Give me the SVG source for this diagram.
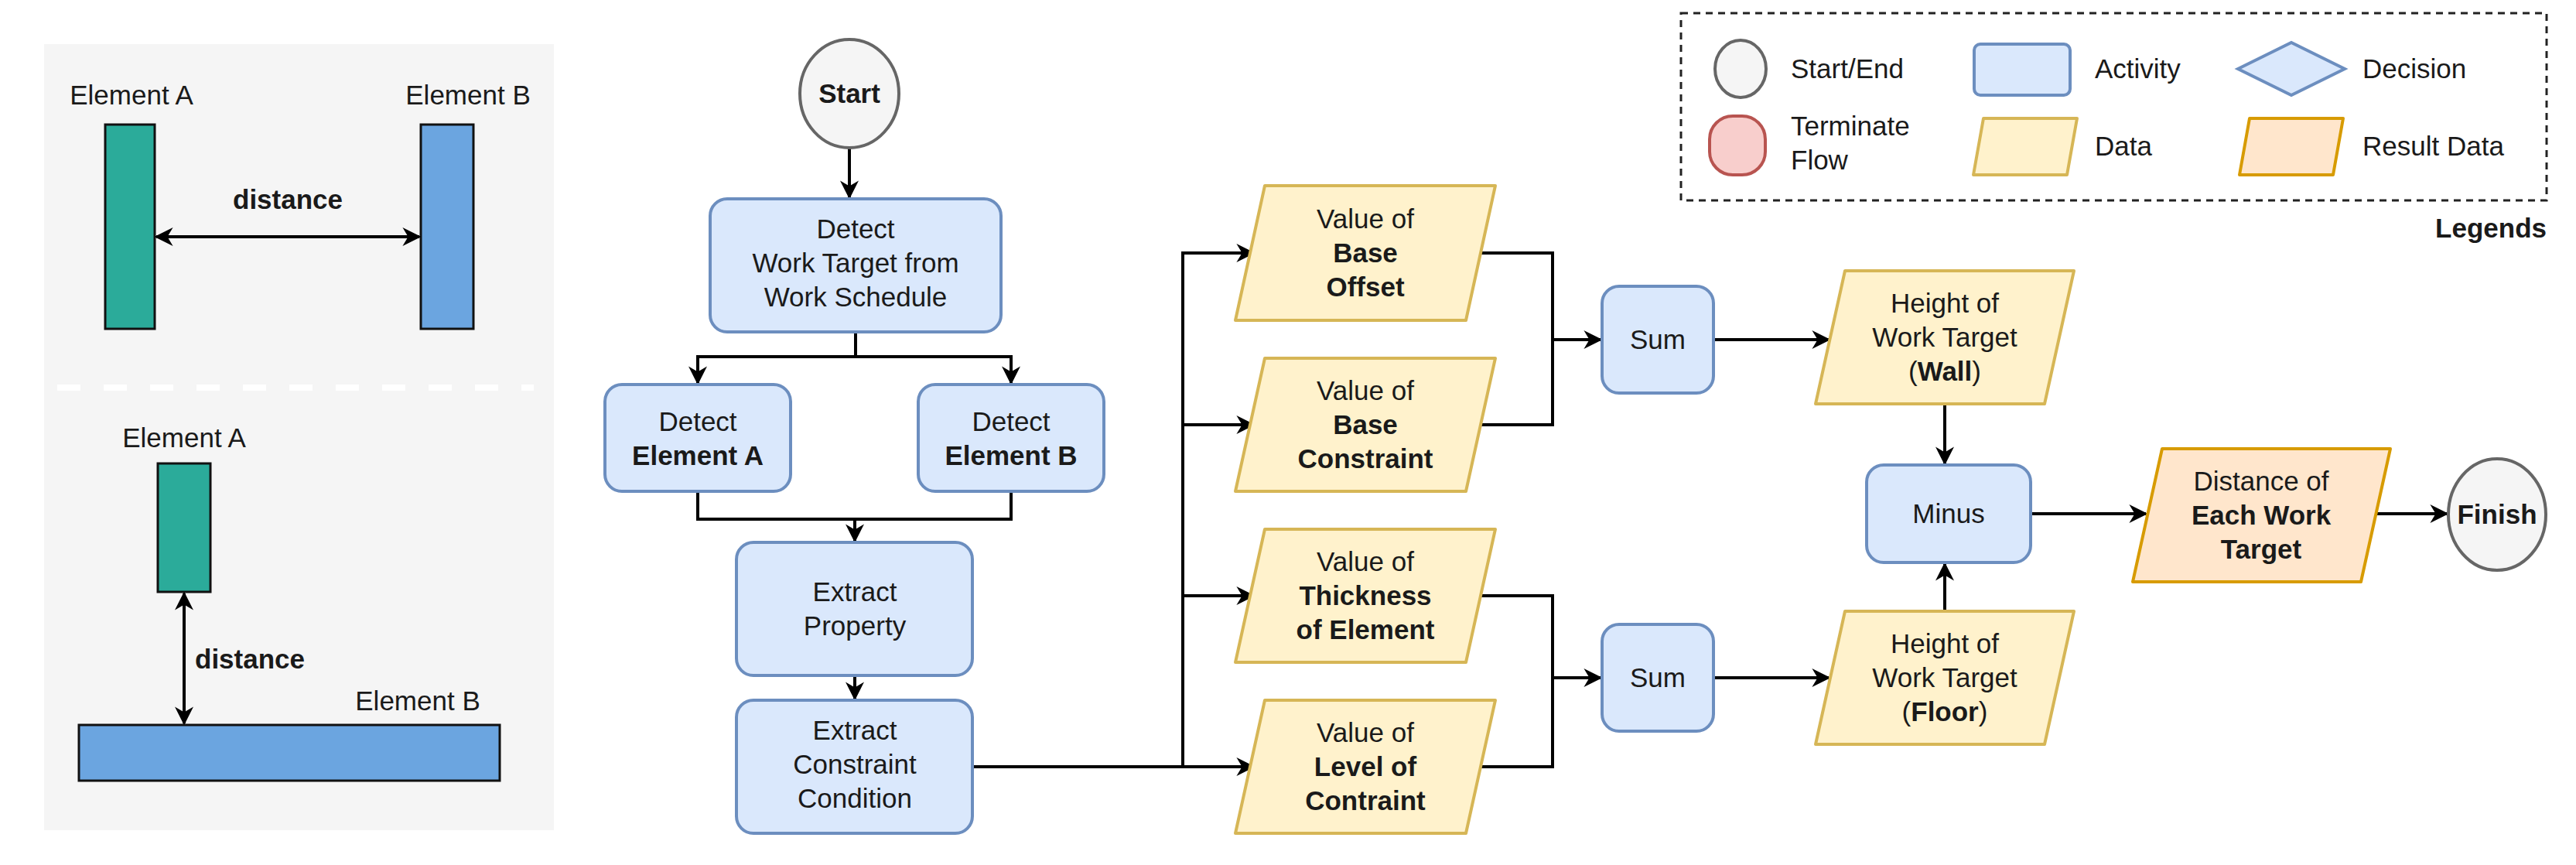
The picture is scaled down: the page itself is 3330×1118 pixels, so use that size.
<svg xmlns="http://www.w3.org/2000/svg" width="3330" height="1118" viewBox="0 0 3330 1118">
<style>
text{font-family:"Liberation Sans",Arial,sans-serif;font-size:35px;fill:#1a1a1a;text-anchor:middle}
.b{font-weight:bold}
.l{text-anchor:start}
.act{fill:#dae8fc;stroke:#6c8ebf;stroke-width:4}
.dat{fill:#fff2cc;stroke:#d6b656;stroke-width:4;stroke-linejoin:round}
.res{fill:#ffe6cc;stroke:#d79b00;stroke-width:4;stroke-linejoin:round}
.se{fill:#f5f5f5;stroke:#666;stroke-width:4}
.c{fill:none;stroke:#000;stroke-width:4}
</style>
<defs>
<marker id="a" viewBox="0 0 10 10" refX="9" refY="5" markerWidth="6" markerHeight="6" orient="auto-start-reverse"><path d="M0,0 L10,5 L0,10 L3,5 Z" fill="#000"/></marker>
</defs>
<g id="panel">
<rect x="57" y="57" width="659" height="1016" fill="#f5f5f5"/>
<text x="170" y="135">Element A</text>
<text x="605" y="135">Element B</text>
<rect x="136" y="161" width="64" height="264" fill="#2bab9a" stroke="#111" stroke-width="3"/>
<rect x="544" y="161" width="68" height="264" fill="#6ba5e0" stroke="#111" stroke-width="3"/>
<line x1="202" y1="306" x2="542" y2="306" class="c" marker-start="url(#a)" marker-end="url(#a)"/>
<text x="372" y="270" class="b">distance</text>
<line x1="74" y1="501" x2="690" y2="501" stroke="#fff" stroke-width="8" stroke-dasharray="30,30"/>
<text x="238" y="578">Element A</text>
<rect x="204" y="599" width="68" height="166" fill="#2bab9a" stroke="#111" stroke-width="3"/>
<line x1="238" y1="767" x2="238" y2="935" class="c" marker-start="url(#a)" marker-end="url(#a)"/>
<text x="252" y="864" class="l b">distance</text>
<text x="540" y="918">Element B</text>
<rect x="102" y="937" width="544" height="72" fill="#6ba5e0" stroke="#111" stroke-width="3"/>
</g>
<g id="connectors">
<line x1="1098" y1="191" x2="1098" y2="255" class="c" marker-end="url(#a)"/>
<path d="M1106,429 V461 H902 V495 M1106,461 H1307 V495" class="c" marker-end="url(#a)"/>
<line x1="902" y1="461" x2="902" y2="495" class="c" marker-end="url(#a)"/>
<path d="M902,635 V671 H1307 V635" class="c"/>
<line x1="1105" y1="671" x2="1105" y2="699" class="c" marker-end="url(#a)"/>
<line x1="1105" y1="873" x2="1105" y2="903" class="c" marker-end="url(#a)"/>
<path d="M1257,991 H1620" class="c" marker-end="url(#a)"/>
<path d="M1529,991 V327 H1620" class="c" marker-end="url(#a)"/>
<line x1="1529" y1="549" x2="1620" y2="549" class="c" marker-end="url(#a)"/>
<line x1="1529" y1="770" x2="1620" y2="770" class="c" marker-end="url(#a)"/>
<path d="M1915,327 H2007 V549 H1915" class="c"/>
<line x1="2007" y1="439" x2="2069" y2="439" class="c" marker-end="url(#a)"/>
<path d="M1915,770 H2007 V991 H1915" class="c"/>
<line x1="2007" y1="876" x2="2069" y2="876" class="c" marker-end="url(#a)"/>
<line x1="2215" y1="439" x2="2364" y2="439" class="c" marker-end="url(#a)"/>
<line x1="2215" y1="876" x2="2364" y2="876" class="c" marker-end="url(#a)"/>
<line x1="2514" y1="522" x2="2514" y2="599" class="c" marker-end="url(#a)"/>
<line x1="2514" y1="790" x2="2514" y2="729" class="c" marker-end="url(#a)"/>
<line x1="2625" y1="664" x2="2774" y2="664" class="c" marker-end="url(#a)"/>
<line x1="3071" y1="664" x2="3163" y2="664" class="c" marker-end="url(#a)"/>
</g>
<g id="start"><ellipse cx="1098" cy="121" rx="64" ry="70" class="se"/><text x="1098" y="133" class="b">Start</text></g>
<g id="detect-target"><rect x="918" y="257" width="376" height="172" rx="22" class="act"/><text x="1106" y="308">Detect</text><text x="1106" y="352">Work Target from</text><text x="1106" y="396">Work Schedule</text></g>
<g id="detect-a"><rect x="782" y="497" width="240" height="138" rx="22" class="act"/><text x="902" y="557">Detect</text><text x="902" y="601" class="b">Element A</text></g>
<g id="detect-b"><rect x="1187" y="497" width="240" height="138" rx="22" class="act"/><text x="1307" y="557">Detect</text><text x="1307" y="601" class="b">Element B</text></g>
<g id="extract-property"><rect x="952" y="701" width="305" height="172" rx="22" class="act"/><text x="1105" y="777">Extract</text><text x="1105" y="821">Property</text></g>
<g id="extract-constraint"><rect x="952" y="905" width="305" height="172" rx="22" class="act"/><text x="1105" y="956">Extract</text><text x="1105" y="1000">Constraint</text><text x="1105" y="1044">Condition</text></g>
<g id="base-offset"><polygon points="1635,240 1933,240 1895,414 1597,414" class="dat"/><text x="1765" y="295">Value of</text><text x="1765" y="339" class="b">Base</text><text x="1765" y="383" class="b">Offset</text></g>
<g id="base-constraint"><polygon points="1635,463 1933,463 1895,635 1597,635" class="dat"/><text x="1765" y="517">Value of</text><text x="1765" y="561" class="b">Base</text><text x="1765" y="605" class="b">Constraint</text></g>
<g id="thickness"><polygon points="1635,684 1933,684 1895,856 1597,856" class="dat"/><text x="1765" y="738">Value of</text><text x="1765" y="782" class="b">Thickness</text><text x="1765" y="826" class="b">of Element</text></g>
<g id="level"><polygon points="1635,905 1933,905 1895,1077 1597,1077" class="dat"/><text x="1765" y="959">Value of</text><text x="1765" y="1003" class="b">Level of</text><text x="1765" y="1047" class="b">Contraint</text></g>
<g id="sum1"><rect x="2071" y="370" width="144" height="138" rx="22" class="act"/><text x="2143" y="451">Sum</text></g>
<g id="sum2"><rect x="2071" y="807" width="144" height="138" rx="22" class="act"/><text x="2143" y="888">Sum</text></g>
<g id="height-wall"><polygon points="2385,350 2681,350 2643,522 2347,522" class="dat"/><text x="2514" y="404">Height of</text><text x="2514" y="448">Work Target</text><text x="2514" y="492">(<tspan class="b">Wall</tspan>)</text></g>
<g id="height-floor"><polygon points="2385,790 2681,790 2643,962 2347,962" class="dat"/><text x="2514" y="844">Height of</text><text x="2514" y="888">Work Target</text><text x="2514" y="932">(<tspan class="b">Floor</tspan>)</text></g>
<g id="minus"><rect x="2413" y="601" width="212" height="126" rx="22" class="act"/><text x="2519" y="676">Minus</text></g>
<g id="distance"><polygon points="2795,580 3090,580 3052,752 2757,752" class="res"/><text x="2923" y="634">Distance of</text><text x="2923" y="678" class="b">Each Work</text><text x="2923" y="722" class="b">Target</text></g>
<g id="finish"><ellipse cx="3228" cy="665" rx="63" ry="72" class="se"/><text x="3228" y="677" class="b">Finish</text></g>
<g id="legend">
<rect x="2173" y="17" width="1119" height="242" fill="none" stroke="#222" stroke-width="3" stroke-dasharray="9,7"/>
<ellipse cx="2250" cy="89" rx="33" ry="37" class="se"/><text x="2315" y="101" class="l">Start/End</text>
<rect x="2552" y="57" width="124" height="66" rx="8" class="act"/><text x="2708" y="101" class="l">Activity</text>
<polygon points="2893,89 2962,55 3031,89 2962,123" fill="#dae8fc" stroke="#6c8ebf" stroke-width="4"/><text x="3054" y="101" class="l">Decision</text>
<rect x="2210" y="150" width="72" height="76" rx="30" fill="#f8cecc" stroke="#b85450" stroke-width="4"/><text x="2315" y="175" class="l">Terminate</text><text x="2315" y="219" class="l">Flow</text>
<polygon points="2564,153 2685,153 2672,226 2551,226" class="dat"/><text x="2708" y="201" class="l">Data</text>
<polygon points="2908,153 3029,153 3016,226 2895,226" class="res"/><text x="3054" y="201" class="l">Result Data</text>
<text x="3292" y="307" class="b" style="text-anchor:end">Legends</text>
</g>
</svg>
